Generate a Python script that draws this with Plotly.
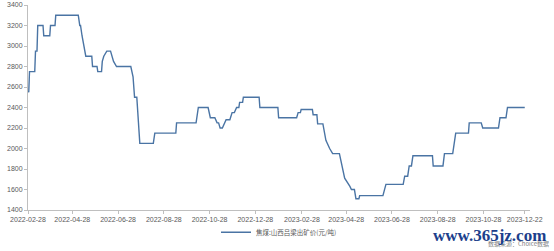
import plotly.graph_objects as go

dates = [
    "2022-02-28", "2022-03-01", "2022-03-02", "2022-03-09", "2022-03-10", "2022-03-12",
    "2022-03-13", "2022-03-20", "2022-03-21", "2022-03-29", "2022-03-30", "2022-04-05",
    "2022-04-06", "2022-05-06", "2022-05-08", "2022-05-09", "2022-05-11", "2022-05-13",
    "2022-05-16", "2022-05-24", "2022-05-25", "2022-05-31", "2022-06-01", "2022-06-06",
    "2022-06-07", "2022-06-09", "2022-06-13", "2022-06-18", "2022-06-20", "2022-06-22",
    "2022-06-26", "2022-07-15", "2022-07-18", "2022-07-20", "2022-07-23", "2022-07-27",
    "2022-08-14", "2022-08-16", "2022-09-13", "2022-09-14", "2022-10-10", "2022-10-13",
    "2022-10-26", "2022-10-29", "2022-11-04", "2022-11-07", "2022-11-09", "2022-11-11",
    "2022-11-14", "2022-11-19", "2022-11-24", "2022-11-27", "2022-11-30", "2022-12-03",
    "2022-12-06", "2022-12-07", "2022-12-11", "2022-12-12", "2023-01-02", "2023-01-03",
    "2023-01-27", "2023-01-28", "2023-02-21", "2023-02-23", "2023-02-26", "2023-02-27",
    "2023-03-14", "2023-03-15", "2023-03-20", "2023-03-21", "2023-03-28", "2023-04-01",
    "2023-04-06", "2023-04-10", "2023-04-19", "2023-04-26", "2023-05-03", "2023-05-05",
    "2023-05-09", "2023-05-11", "2023-05-15", "2023-05-16", "2023-06-16", "2023-06-20",
    "2023-07-13", "2023-07-15", "2023-07-19", "2023-07-21", "2023-07-24", "2023-07-26",
    "2023-08-21", "2023-08-22", "2023-09-04", "2023-09-06", "2023-09-17", "2023-09-18",
    "2023-09-21", "2023-10-08", "2023-10-09", "2023-10-25", "2023-10-27", "2023-11-17",
    "2023-11-19", "2023-11-27", "2023-11-29", "2023-12-22",
]
prices = [
    2560, 2550, 2750, 2750, 2950, 2950,
    3200, 3200, 3100, 3100, 3200, 3200,
    3300, 3300, 3200, 3200, 3100, 3000,
    2900, 2900, 2800, 2800, 2750, 2750,
    2850, 2900, 2950, 2950, 2900, 2850,
    2800, 2800, 2700, 2500, 2500, 2050,
    2050, 2150, 2150, 2250, 2250, 2400,
    2400, 2300, 2300, 2250, 2250, 2200,
    2200, 2280, 2280, 2350, 2350, 2400,
    2400, 2450, 2450, 2500, 2500, 2400,
    2400, 2300, 2300, 2350, 2350, 2380,
    2380, 2330, 2330, 2240, 2240, 2080,
    2000, 1950, 1950, 1710, 1630, 1600,
    1600, 1510, 1510, 1540, 1540, 1650,
    1650, 1730, 1730, 1830, 1830, 1930,
    1930, 1830, 1830, 1950, 1950, 2000,
    2150, 2150, 2250, 2250, 2200, 2200,
    2300, 2300, 2400, 2400,
]

x_tick_dates = ["2022-02-28", "2022-04-28", "2022-06-28", "2022-08-28", "2022-10-28",
                "2022-12-28", "2023-02-28", "2023-04-28", "2023-06-28", "2023-08-28",
                "2023-10-28", "2023-12-22"]
y_ticks = [1400, 1600, 1800, 2000, 2200, 2400, 2600, 2800, 3000, 3200, 3400]

series_name = "焦煤:山西吕梁出矿价(元/吨)"
source_text = "数据来源：Choice数据"
watermark = "www.365jz.com"

fig = go.Figure()
fig.add_trace(go.Scatter(
    x=dates, y=prices, mode="lines", name=series_name,
    line=dict(color="#4a74a4", width=1.4),
))

axis_font = dict(family="Liberation Sans, Arial, sans-serif", size=7, color="#595959")
fig.update_layout(
    width=554, height=251,
    margin=dict(l=28, r=24, t=5, b=41, autoexpand=False),
    paper_bgcolor="white", plot_bgcolor="white",
    showlegend=True,
    legend=dict(
        orientation="h", x=0.5, xanchor="center",
        yref="container", y=0.075, yanchor="middle",
        font=dict(family="Noto Sans CJK SC, sans-serif", size=6.5, color="#595959"),
        itemwidth=30, bgcolor="rgba(0,0,0,0)",
    ),
    xaxis=dict(
        type="date", range=["2022-02-28", "2023-12-29"],
        tickmode="array", tickvals=x_tick_dates, ticktext=x_tick_dates,
        tickangle=0, automargin=False,
        showgrid=False, zeroline=False,
        showline=True, linecolor="#bfbfbf", linewidth=1,
        ticks="outside", ticklen=3, tickcolor="#bfbfbf",
        tickfont=axis_font,
    ),
    yaxis=dict(
        range=[1400, 3400], tickmode="array", tickvals=y_ticks,
        automargin=False,
        showgrid=False, zeroline=False,
        showline=True, linecolor="#bfbfbf", linewidth=1,
        ticks="outside", ticklen=3, tickcolor="#bfbfbf",
        tickfont=axis_font,
    ),
    annotations=[
        dict(text=source_text, xref="paper", yref="paper", x=1.042, y=-0.161,
             xanchor="right", yanchor="middle", showarrow=False,
             font=dict(family="Noto Sans CJK SC, sans-serif", size=6, color="#7f7f7f")),
        dict(text="<b>" + watermark + "</b>", xref="paper", yref="paper", x=1.036, y=-0.122,
             xanchor="right", yanchor="middle", showarrow=False,
             font=dict(family="Liberation Serif, Times New Roman, serif", size=17, color="#1c3f8c")),
    ],
)

fig.write_html("out.html")
